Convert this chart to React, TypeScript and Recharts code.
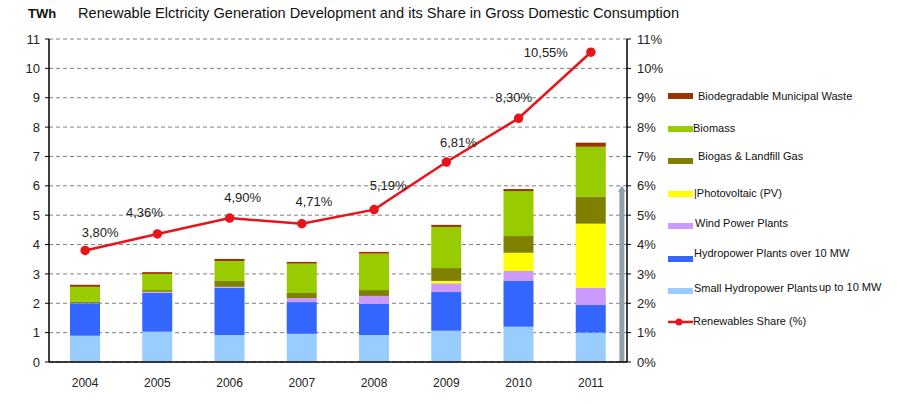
import React from 'react';
import {
  ComposedChart,
  Bar,
  Line,
  XAxis,
  YAxis,
  CartesianGrid,
  LabelList,
  ReferenceLine,
} from 'recharts';

const YEARS = ['2004', '2005', '2006', '2007', '2008', '2009', '2010', '2011'];
const SMALL_HYDRO = [0.89, 1.03, 0.92, 0.96, 0.92, 1.06, 1.2, 1.0];
const HYDRO_LARGE = [1.11, 1.33, 1.61, 1.08, 1.06, 1.32, 1.56, 0.94];
const WIND = [0.01, 0.03, 0.03, 0.14, 0.27, 0.3, 0.34, 0.59];
const PV = [0, 0, 0, 0, 0, 0.08, 0.62, 2.18];
const BIOGAS = [0.04, 0.06, 0.2, 0.17, 0.2, 0.44, 0.57, 0.92];
const BIOMASS = [0.51, 0.55, 0.68, 1.0, 1.24, 1.4, 1.53, 1.7];
const WASTE = [0.07, 0.06, 0.07, 0.06, 0.06, 0.07, 0.07, 0.14];
const SHARE = [3.8, 4.36, 4.9, 4.71, 5.19, 6.81, 8.3, 10.55];
const TICKS = [0, 1, 2, 3, 4, 5, 6, 7, 8, 9, 10, 11];

const FONT = '"Liberation Sans", Arial, sans-serif';

const data = YEARS.map((year, i) => ({
  year,
  smallHydro: SMALL_HYDRO[i],
  hydro: HYDRO_LARGE[i],
  wind: WIND[i],
  pv: PV[i],
  biogas: BIOGAS[i],
  biomass: BIOMASS[i],
  waste: WASTE[i],
  share: SHARE[i],
}));

// label offsets relative to each point (dx, dy)
const LABEL_SHIFT: [number, number][] = [
  [15, -18], [-13, -21], [13, -21], [12, -22], [14, -24], [12, -20], [-5, -21], [-45, 0],
];

const ShareLabel = (props: any) => {
  const { x, y, value, index } = props;
  const [dx, dy] = LABEL_SHIFT[index] || [0, -18];
  return (
    <text
      x={x + dx}
      y={y + dy}
      textAnchor="middle"
      dominantBaseline="central"
      fontSize={13}
      fontFamily={FONT}
      fill="#222"
    >
      {value.toFixed(2).replace('.', ',')}%
    </text>
  );
};

const Arrow = (props: any) => {
  const { x1, y1, y2 } = props;
  const x = x1 + 31;
  const top = Math.min(y1, y2);
  const bottom = Math.max(y1, y2);
  return (
    <g>
      <line x1={x} y1={bottom} x2={x} y2={top + 4} stroke="#8ea3a7" strokeWidth={5} />
      <polygon points={`${x - 4},${top + 6} ${x + 4},${top + 6} ${x},${top}`} fill="#8ea3a7" />
    </g>
  );
};

const LEGEND = [
  { name: 'Biodegradable Municipal Waste', color: '#993300', y: 96, tx: 698, ty: 96 },
  { name: 'Biomass', color: '#99cc00', y: 129, tx: 693, ty: 128 },
  { name: 'Biogas & Landfill Gas', color: '#808000', y: 161, tx: 698, ty: 156 },
  { name: '|Photovoltaic (PV)', color: '#ffff00', y: 194, tx: 694, ty: 193 },
  { name: 'Wind Power Plants', color: '#cc99ff', y: 226, tx: 695, ty: 223 },
  { name: 'Hydropower Plants over 10 MW', color: '#3366ff', y: 259, tx: 694, ty: 253 },
  { name: 'Small Hydropower Plants', extra: 'up to 10 MW', color: '#99ccff', y: 291, tx: 694, ty: 288 },
];

export default function App() {
  return (
    <div style={{ position: 'absolute', left: 0, top: 0, width: 918, height: 404, background: '#fff', fontFamily: FONT }}>
      <div style={{ position: 'absolute', left: 28, top: 6, fontSize: 13, fontWeight: 'bold', color: '#111' }}>TWh</div>
      <div style={{ position: 'absolute', left: 78, top: 5, fontSize: 14.6, color: '#111' }}>
        Renewable Elctricity Generation Development and its Share in Gross Domestic Consumption
      </div>
      <ComposedChart
        width={918}
        height={404}
        data={data}
        margin={{ top: 39, right: 246, bottom: 12, left: 9 }}
      >
        <CartesianGrid yAxisId="left" vertical={false} strokeDasharray="4 3" stroke="#808080" />
        <XAxis
          dataKey="year"
          height={30}
          tickLine={false}
          tickSize={0}
          tickMargin={16}
          axisLine={{ stroke: '#000', strokeWidth: 1.5 }}
          tick={{ fontSize: 12, fill: '#222', fontFamily: FONT }}
        />
        <YAxis
          yAxisId="left"
          domain={[0, 11]}
          ticks={TICKS}
          width={40}
          tickSize={4}
          tickMargin={5}
          interval={0}
          axisLine={{ stroke: '#000', strokeWidth: 1.5 }}
          tickLine={{ stroke: '#000' }}
          tick={{ fontSize: 13, fill: '#222', fontFamily: FONT }}
        />
        <YAxis
          yAxisId="right"
          orientation="right"
          domain={[0, 11]}
          ticks={TICKS}
          width={45}
          tickSize={4}
          tickMargin={6}
          interval={0}
          tickFormatter={(v) => `${v}%`}
          axisLine={{ stroke: '#000', strokeWidth: 1.5 }}
          tickLine={{ stroke: '#000' }}
          tick={{ fontSize: 13, fill: '#222', fontFamily: FONT }}
        />
        <Bar yAxisId="left" dataKey="smallHydro" stackId="a" fill="#99ccff" barSize={30} isAnimationActive={false} />
        <Bar yAxisId="left" dataKey="hydro" stackId="a" fill="#3366ff" barSize={30} isAnimationActive={false} />
        <Bar yAxisId="left" dataKey="wind" stackId="a" fill="#cc99ff" barSize={30} isAnimationActive={false} />
        <Bar yAxisId="left" dataKey="pv" stackId="a" fill="#ffff00" barSize={30} isAnimationActive={false} />
        <Bar yAxisId="left" dataKey="biogas" stackId="a" fill="#808000" barSize={30} isAnimationActive={false} />
        <Bar yAxisId="left" dataKey="biomass" stackId="a" fill="#99cc00" barSize={30} isAnimationActive={false} />
        <Bar yAxisId="left" dataKey="waste" stackId="a" fill="#993300" barSize={30} isAnimationActive={false} />
        <ReferenceLine
          yAxisId="right"
          segment={[{ x: '2011', y: 0 }, { x: '2011', y: 6 }]}
          shape={Arrow}
          ifOverflow="visible"
        />
        <Line
          yAxisId="right"
          dataKey="share"
          stroke="#e8141c"
          strokeWidth={2.5}
          dot={{ r: 3.5, fill: '#e8141c', stroke: '#e8141c' }}
          isAnimationActive={false}
        >
          <LabelList dataKey="share" content={ShareLabel} />
        </Line>
      </ComposedChart>
      <svg style={{ position: 'absolute', left: 0, top: 0 }} width={918} height={404}>
        {LEGEND.map((item) => (
          <g key={item.name}>
            <rect x={668} y={item.y - 3} width={25} height={6} fill={item.color} />
            <text x={item.tx} y={item.ty} dominantBaseline="central" fontSize={11} fontFamily={FONT} fill="#111">
              {item.name}
            </text>
            {item.extra && (
              <text x={819} y={item.ty - 1} dominantBaseline="central" fontSize={11} fontFamily={FONT} fill="#111">
                {item.extra}
              </text>
            )}
          </g>
        ))}
        <line x1={668} y1={322} x2={693} y2={322} stroke="#e8141c" strokeWidth={2.5} />
        <circle cx={679} cy={322} r={3.5} fill="#e8141c" />
        <text x={693} y={321} dominantBaseline="central" fontSize={11} fontFamily={FONT} fill="#111">
          Renewables Share (%)
        </text>
      </svg>
    </div>
  );
}
